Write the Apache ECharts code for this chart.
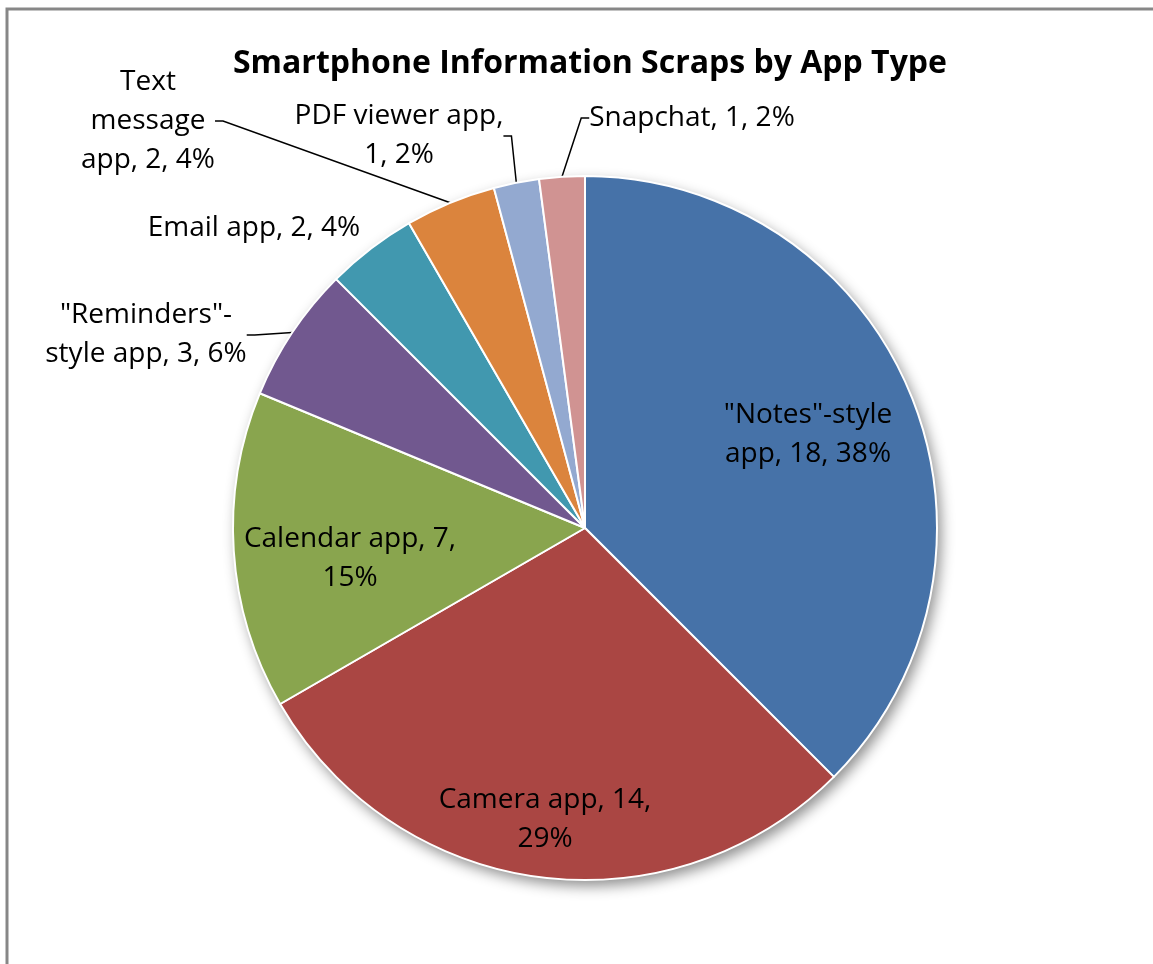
<!DOCTYPE html>
<html>
<head>
<meta charset="utf-8">
<script src="https://cdn.jsdelivr.net/npm/echarts@6/dist/echarts.min.js"></script>
<style>
  html, body { margin: 0; padding: 0; background: #fff; }
  #chart { width: 1153px; height: 964px; }
</style>
</head>
<body>
<div id="chart"></div>
<script>
// App types, clockwise from 12 o'clock
const categories = [
  '"Notes"-style app',
  'Camera app',
  'Calendar app',
  '"Reminders"-style app',
  'Email app',
  'Text message app',
  'PDF viewer app',
  'Snapchat'
];
// Number of information scraps per app type
const values = [18, 14, 7, 3, 2, 2, 1, 1];
const chartTitle = 'Smartphone Information Scraps by App Type';

// Slice colours
const colors = ['#4672a8', '#aa4643', '#89a54e', '#71588f', '#4198af', '#db843d', '#93a9d0', '#d09392'];

// Label styling: where each label wraps (char offsets), where its block is centred,
// whether it sits inside its slice and whether it gets a leader line
const labelBreaks = [[13], [15], [16], [12], [], [4, 12], [15], []];
const labelSpots = [[808, 435], [545, 820], [350, 559], [146, 335], [254, 228], [148, 121], [399, 136], [692, 118]];
const insideLabel = [true, true, true, false, false, false, false, false];
const leaderLine = [false, false, false, true, false, true, true, true];

const total = values.reduce((a, b) => a + b, 0);

function labelText(i) {
  const s = categories[i] + ', ' + values[i] + ', ' + Math.round(values[i] / total * 100) + '%';
  const parts = [];
  let prev = 0;
  labelBreaks[i].forEach(p => { parts.push(s.slice(prev, p).trim()); prev = p; });
  parts.push(s.slice(prev).trim());
  return parts.join('\n');
}

const FONT = 'Open Sans';
const CENTER = [585, 528];
const RADIUS = 352;

const chart = echarts.init(document.getElementById('chart'), null, { renderer: 'canvas' });

chart.setOption({
  backgroundColor: '#ffffff',
  animation: false,
  title: {
    text: chartTitle,
    left: 585,
    top: 38,
    textAlign: 'center',
    textStyle: { fontFamily: FONT, fontWeight: 'bold', fontSize: 32, color: '#000', lineHeight: 42 }
  },
  graphic: [
    {
      type: 'rect',
      z: -10,
      shape: { x: 7, y: 9, width: 1400, height: 1200 },
      style: { fill: 'none', stroke: '#878787', lineWidth: 3 }
    }
  ],
  series: [
    {
      // soft drop shadow under the whole pie
      type: 'pie',
      silent: true,
      center: CENTER,
      radius: RADIUS,
      z: 1,
      label: { show: false },
      labelLine: { show: false },
      data: [{ value: total, itemStyle: { color: '#ffffff', shadowBlur: 14, shadowOffsetX: 4, shadowOffsetY: 6, shadowColor: 'rgba(0,0,0,0.45)' } }]
    },
    {
      type: 'pie',
      center: CENTER,
      radius: RADIUS,
      z: 2,
      startAngle: 90,
      clockwise: true,
      avoidLabelOverlap: false,
      itemStyle: { borderColor: '#ffffff', borderWidth: 2 },
      label: {
        fontFamily: FONT,
        fontSize: 28,
        lineHeight: 39,
        color: '#000',
        formatter: p => labelText(p.dataIndex)
      },
      labelLine: {
        length: 10,
        length2: 8,
        lineStyle: { color: '#000', width: 1.5 }
      },
      labelLayout: params => {
        const s = labelSpots[params.dataIndex];
        return { x: s[0], y: s[1], align: 'center', verticalAlign: 'middle' };
      },
      data: categories.map((name, i) => ({
        name: name,
        value: values[i],
        itemStyle: { color: colors[i] },
        label: { position: insideLabel[i] ? 'inside' : 'outside' },
        labelLine: { show: leaderLine[i] }
      }))
    }
  ]
});
</script>
</body>
</html>
